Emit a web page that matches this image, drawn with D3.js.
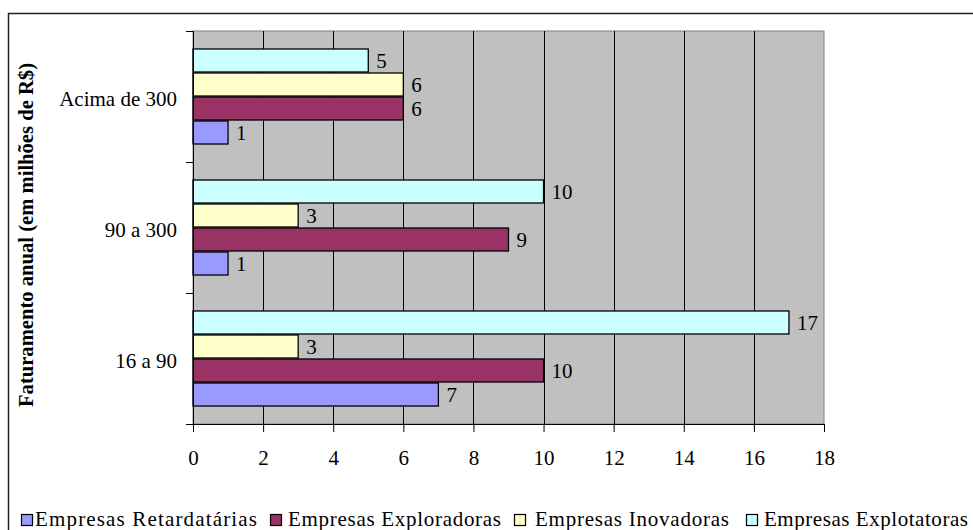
<!DOCTYPE html>
<html>
<head>
<meta charset="utf-8">
<script src="https://cdn.jsdelivr.net/npm/d3@7"></script>
<style>
  html, body { margin: 0; padding: 0; background: #fff; }
  svg { display: block; }
  text { font-family: "Liberation Serif", "Times New Roman", serif; fill: #000; }
</style>
</head>
<body>
<svg id="chart" width="973" height="530"></svg>
<script>
// Revenue bands, listed top to bottom
const categories = ["Acima de 300", "90 a 300", "16 a 90"];
// Series, listed top to bottom inside each band
const seriesNames = ["Empresas Explotatoras", "Empresas Inovadoras", "Empresas Exploradoras", "Empresas Retardatárias"];
// Values per series, in the order of categories
const explotatoras  = [5, 10, 17];
const inovadoras    = [6, 3, 3];
const exploradoras  = [6, 9, 10];
const retardatarias = [1, 1, 7];
const xTicks = [0, 2, 4, 6, 8, 10, 12, 14, 16, 18];
const legendOrder = ["Empresas Retardatárias", "Empresas Exploradoras", "Empresas Inovadoras", "Empresas Explotatoras"];
const yTitle = "Faturamento anual (em milhões de R$)";

const seriesValues = {
  "Empresas Explotatoras": explotatoras,
  "Empresas Inovadoras": inovadoras,
  "Empresas Exploradoras": exploradoras,
  "Empresas Retardatárias": retardatarias
};
const colors = {
  "Empresas Retardatárias": "#9999ff",
  "Empresas Exploradoras": "#993366",
  "Empresas Inovadoras": "#ffffcc",
  "Empresas Explotatoras": "#ccffff"
};

const svg = d3.select("#chart");
const plot = { left: 193, right: 824, top: 31, bottom: 424 };

// outer frame (runs off the right and bottom edges)
svg.append("rect")
  .attr("x", 8.5).attr("y", 13.5)
  .attr("width", 1000).attr("height", 600)
  .attr("fill", "none").attr("stroke", "#222").attr("stroke-width", 1.5);

const x = d3.scaleLinear().domain([0, 18]).range([plot.left, plot.right]);
const y0 = d3.scaleBand().domain(categories).range([plot.top, plot.bottom])
  .paddingInner(0.267).paddingOuter(0.1335);
const y1 = d3.scaleBand().domain(seriesNames).range([0, y0.bandwidth()]);

// plot background
svg.append("rect")
  .attr("x", plot.left).attr("y", plot.top)
  .attr("width", plot.right - plot.left).attr("height", plot.bottom - plot.top)
  .attr("fill", "#c0c0c0").attr("stroke", "#808080").attr("stroke-width", 1);

// vertical gridlines
svg.append("g").selectAll("line")
  .data(xTicks.filter(t => t > 0 && t < 18))
  .join("line")
  .attr("x1", d => Math.round(x(d)) + 0.5).attr("x2", d => Math.round(x(d)) + 0.5)
  .attr("y1", plot.top).attr("y2", plot.bottom)
  .attr("stroke", "#000").attr("stroke-width", 1);

// bars
const groups = svg.append("g").selectAll("g")
  .data(categories)
  .join("g")
  .attr("transform", d => `translate(0,${y0(d)})`);

groups.each(function(cat, ci) {
  const g = d3.select(this);
  seriesNames.forEach(s => {
    const v = seriesValues[s][ci];
    g.append("rect")
      .attr("x", x(0))
      .attr("y", y1(s) + 0.5)
      .attr("width", x(v) - x(0))
      .attr("height", y1.bandwidth() - 1)
      .attr("fill", colors[s])
      .attr("stroke", "#000").attr("stroke-width", 1.3);
    g.append("text")
      .attr("x", x(v) + 8)
      .attr("y", y1(s) + y1.bandwidth() / 2 + 7.5)
      .attr("font-size", 21)
      .text(v);
  });
});

// x axis
const xAxis = svg.append("g")
  .attr("transform", `translate(0,${plot.bottom})`)
  .call(d3.axisBottom(x).tickValues(xTicks).tickSize(8).tickPadding(18).tickFormat(d3.format("d")));
xAxis.select(".domain").attr("stroke", "#000");
xAxis.selectAll(".tick line").attr("stroke", "#000");
xAxis.selectAll(".tick text")
  .attr("font-size", 21).attr("font-family", "Liberation Serif, serif").attr("fill", "#000");

// y axis: line plus tick marks at band boundaries
svg.append("line")
  .attr("x1", plot.left + 0.5).attr("x2", plot.left + 0.5)
  .attr("y1", plot.top).attr("y2", plot.bottom + 8)
  .attr("stroke", "#000");
const step = y0.step();
const bounds = d3.range(categories.length + 1).map(i => plot.top + i * step);
svg.append("g").selectAll("line")
  .data(bounds)
  .join("line")
  .attr("x1", plot.left - 7).attr("x2", plot.left)
  .attr("y1", d => Math.round(d) + 0.5).attr("y2", d => Math.round(d) + 0.5)
  .attr("stroke", "#000");

// category labels
svg.append("g").selectAll("text")
  .data(categories)
  .join("text")
  .attr("x", 177)
  .attr("y", d => y0(d) + y0.bandwidth() / 2 + 9)
  .attr("text-anchor", "end")
  .attr("font-size", 21)
  .text(d => d);

// y axis title
svg.append("text")
  .attr("transform", `translate(33,${235}) rotate(-90)`)
  .attr("text-anchor", "middle")
  .attr("font-size", 20)
  .attr("font-weight", "bold")
  .attr("textLength", 344).attr("lengthAdjust", "spacingAndGlyphs")
  .text(yTitle);

// legend
const legendItems = [
  { name: legendOrder[0], sx: 21, tx: 35, w: 222 },
  { name: legendOrder[1], sx: 270, tx: 288, w: 213 },
  { name: legendOrder[2], sx: 514, tx: 535, w: 194 },
  { name: legendOrder[3], sx: 746, tx: 764, w: 204 }
];
const legend = svg.append("g");
legendItems.forEach(it => {
  legend.append("rect")
    .attr("x", it.sx + 0.5).attr("y", 514.5)
    .attr("width", 11).attr("height", 11)
    .attr("fill", colors[it.name]).attr("stroke", "#000").attr("stroke-width", 1.2);
  legend.append("text")
    .attr("x", it.tx).attr("y", 526)
    .attr("font-size", 21)
    .attr("textLength", it.w).attr("lengthAdjust", "spacing")
    .text(it.name);
});
</script>
</body>
</html>
